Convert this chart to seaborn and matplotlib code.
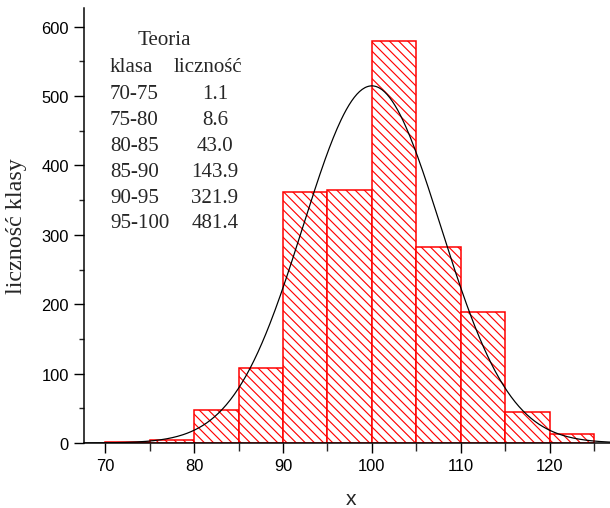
import numpy as np
import matplotlib
matplotlib.use('Agg')
import matplotlib.pyplot as plt
from matplotlib.ticker import MultipleLocator
import seaborn as sns

# dane
bin_edges = [70, 75, 80, 85, 90, 95, 100, 105, 110, 115, 120, 125]
counts = [2, 5, 48, 108, 362, 365, 580, 283, 189, 45, 13]

# tabelka "Teoria"
klasy = ['70-75', '75-80', '80-85', '85-90', '90-95', '95-100']
teoria = ['1.1', '8.6', '43.0', '143.9', '321.9', '481.4']

# krzywa teoretyczna (rozkład normalny)
mu = 100.0
sigma = 7.75

DPI = 110
W, H = 610, 509


def pt(px):
    return px * 72 / DPI


sns.set_style('ticks')
plt.rcParams['font.family'] = ['Liberation Sans', 'DejaVu Sans']
plt.rcParams['hatch.color'] = 'red'
plt.rcParams['hatch.linewidth'] = 0.75

fig = plt.figure(figsize=(W / DPI, H / DPI), dpi=DPI)
ax = fig.add_axes([84 / W, 1 - 444 / H, (W - 84) / W, (444 - 9) / H])

centers = [(a + b) / 2 for a, b in zip(bin_edges[:-1], bin_edges[1:])]
sns.histplot(x=centers, weights=counts, bins=bin_edges, ax=ax,
             facecolor='white', edgecolor='red', hatch='\\\\\\\\',
             linewidth=1.0, alpha=1)

# krzywa normalna dopasowana do liczności
n_total = sum(counts)
width = bin_edges[1] - bin_edges[0]
xs = np.linspace(67.6, 126.8, 400)
ys = n_total * width * np.exp(-0.5 * ((xs - mu) / sigma) ** 2) / (sigma * np.sqrt(2 * np.pi))
sns.lineplot(x=xs, y=ys, ax=ax, color='black', linewidth=0.8)

ax.set_xlim(67.6, 126.8)
ax.set_ylim(0, 627)
ax.xaxis.set_major_locator(MultipleLocator(10))
ax.xaxis.set_minor_locator(MultipleLocator(5))
ax.yaxis.set_major_locator(MultipleLocator(100))
ax.yaxis.set_minor_locator(MultipleLocator(50))
ax.tick_params(which='major', length=pt(10), width=pt(1.4), pad=pt(5),
               labelsize=pt(16.5), color='black', labelcolor='black')
ax.tick_params(axis='y', which='minor', length=pt(5), width=pt(1.4))
ax.tick_params(axis='x', which='minor', length=pt(8), width=pt(1.4))
sns.despine(ax=ax)
for s in ['left', 'bottom']:
    ax.spines[s].set_linewidth(pt(1.5))
    ax.spines[s].set_color('black')

ax.set_xlabel('x', fontsize=pt(21))
ax.xaxis.set_label_coords((351 - 84) / (W - 84), (444 - 490) / 435)
ax.set_ylabel('liczność klasy', fontsize=pt(24),
              family=['Liberation Serif', 'DejaVu Serif'])
ax.yaxis.set_label_coords((27 - 84) / (W - 84), 0.5)


def ftext(px, py, s, **kw):
    fig.text(px / W, 1 - py / H, s, va='baseline', fontsize=pt(21),
             family=['Liberation Serif', 'DejaVu Serif'], **kw)


ftext(164, 45, 'Teoria', ha='center')
ftext(110, 71.7, 'klasa', ha='left')
ftext(174, 71.7, 'liczność', ha='left')
for i, (k, t) in enumerate(zip(klasy, teoria)):
    y = 99 + i * 25.9
    ftext(110, y, k, ha='left')
    ftext(215, y, t, ha='center')

fig.savefig('out.png', dpi=DPI)
